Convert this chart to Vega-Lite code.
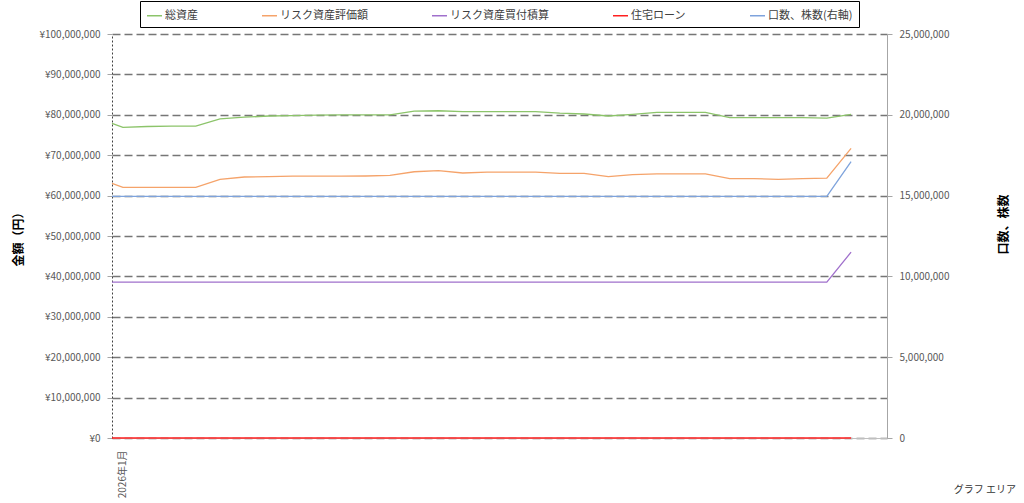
{
  "$schema": "https://vega.github.io/schema/vega-lite/v6.json",
  "width": 775,
  "height": 404,
  "autosize": {"type": "none"},
  "padding": {"left": 112, "top": 34, "right": 137, "bottom": 65},
  "background": "white",
  "config": {"font": "Noto Sans CJK JP", "view": {"stroke": null}},
  "title": {"text": "グラフ エリア", "orient": "bottom", "anchor": "end", "frame": "group", "fontSize": 10, "fontWeight": "normal", "color": "#333333", "dx": 129, "offset": -13},
  "data": {"values": [
    {"t": 0, "総資産": 77900000, "リスク資産評価額": 63000000, "リスク資産買付積算": 38600000, "住宅ローン": 0, "口数、株数(右軸)": 14950000},
    {"t": 0.45, "総資産": 76900000, "リスク資産評価額": 62050000, "リスク資産買付積算": 38600000, "住宅ローン": 0, "口数、株数(右軸)": 14950000},
    {"t": 1.45, "総資産": 77100000, "リスク資産評価額": 62050000, "リスク資産買付積算": 38600000, "住宅ローン": 0, "口数、株数(右軸)": 14950000},
    {"t": 2.45, "総資産": 77200000, "リスク資産評価額": 62050000, "リスク資産買付積算": 38600000, "住宅ローン": 0, "口数、株数(右軸)": 14950000},
    {"t": 3.45, "総資産": 77200000, "リスク資産評価額": 62050000, "リスク資産買付積算": 38600000, "住宅ローン": 0, "口数、株数(右軸)": 14950000},
    {"t": 4.45, "総資産": 79000000, "リスク資産評価額": 64000000, "リスク資産買付積算": 38600000, "住宅ローン": 0, "口数、株数(右軸)": 14950000},
    {"t": 5.45, "総資産": 79400000, "リスク資産評価額": 64600000, "リスク資産買付積算": 38600000, "住宅ローン": 0, "口数、株数(右軸)": 14950000},
    {"t": 6.45, "総資産": 79700000, "リスク資産評価額": 64700000, "リスク資産買付積算": 38600000, "住宅ローン": 0, "口数、株数(右軸)": 14950000},
    {"t": 7.45, "総資産": 79800000, "リスク資産評価額": 64800000, "リスク資産買付積算": 38600000, "住宅ローン": 0, "口数、株数(右軸)": 14950000},
    {"t": 8.45, "総資産": 79900000, "リスク資産評価額": 64800000, "リスク資産買付積算": 38600000, "住宅ローン": 0, "口数、株数(右軸)": 14950000},
    {"t": 9.45, "総資産": 80000000, "リスク資産評価額": 64800000, "リスク資産買付積算": 38600000, "住宅ローン": 0, "口数、株数(右軸)": 14950000},
    {"t": 10.45, "総資産": 80000000, "リスク資産評価額": 64850000, "リスク資産買付積算": 38600000, "住宅ローン": 0, "口数、株数(右軸)": 14950000},
    {"t": 11.45, "総資産": 80000000, "リスク資産評価額": 65000000, "リスク資産買付積算": 38600000, "住宅ローン": 0, "口数、株数(右軸)": 14950000},
    {"t": 12.45, "総資産": 80900000, "リスク資産評価額": 65900000, "リスク資産買付積算": 38600000, "住宅ローン": 0, "口数、株数(右軸)": 14950000},
    {"t": 13.45, "総資産": 81000000, "リスク資産評価額": 66200000, "リスク資産買付積算": 38600000, "住宅ローン": 0, "口数、株数(右軸)": 14950000},
    {"t": 14.45, "総資産": 80800000, "リスク資産評価額": 65600000, "リスク資産買付積算": 38600000, "住宅ローン": 0, "口数、株数(右軸)": 14950000},
    {"t": 15.45, "総資産": 80800000, "リスク資産評価額": 65800000, "リスク資産買付積算": 38600000, "住宅ローン": 0, "口数、株数(右軸)": 14950000},
    {"t": 16.45, "総資産": 80800000, "リスク資産評価額": 65800000, "リスク資産買付積算": 38600000, "住宅ローン": 0, "口数、株数(右軸)": 14950000},
    {"t": 17.45, "総資産": 80800000, "リスク資産評価額": 65800000, "リスク資産買付積算": 38600000, "住宅ローン": 0, "口数、株数(右軸)": 14950000},
    {"t": 18.45, "総資産": 80400000, "リスク資産評価額": 65500000, "リスク資産買付積算": 38600000, "住宅ローン": 0, "口数、株数(右軸)": 14950000},
    {"t": 19.45, "総資産": 80200000, "リスク資産評価額": 65500000, "リスク資産買付積算": 38600000, "住宅ローン": 0, "口数、株数(右軸)": 14950000},
    {"t": 20.45, "総資産": 79700000, "リスク資産評価額": 64700000, "リスク資産買付積算": 38600000, "住宅ローン": 0, "口数、株数(右軸)": 14950000},
    {"t": 21.45, "総資産": 80100000, "リスク資産評価額": 65200000, "リスク資産買付積算": 38600000, "住宅ローン": 0, "口数、株数(右軸)": 14950000},
    {"t": 22.45, "総資産": 80600000, "リスク資産評価額": 65400000, "リスク資産買付積算": 38600000, "住宅ローン": 0, "口数、株数(右軸)": 14950000},
    {"t": 23.45, "総資産": 80600000, "リスク資産評価額": 65400000, "リスク資産買付積算": 38600000, "住宅ローン": 0, "口数、株数(右軸)": 14950000},
    {"t": 24.45, "総資産": 80600000, "リスク資産評価額": 65400000, "リスク資産買付積算": 38600000, "住宅ローン": 0, "口数、株数(右軸)": 14950000},
    {"t": 25.45, "総資産": 79300000, "リスク資産評価額": 64200000, "リスク資産買付積算": 38600000, "住宅ローン": 0, "口数、株数(右軸)": 14950000},
    {"t": 26.45, "総資産": 79300000, "リスク資産評価額": 64200000, "リスク資産買付積算": 38600000, "住宅ローン": 0, "口数、株数(右軸)": 14950000},
    {"t": 27.45, "総資産": 79300000, "リスク資産評価額": 64000000, "リスク資産買付積算": 38600000, "住宅ローン": 0, "口数、株数(右軸)": 14950000},
    {"t": 28.45, "総資産": 79300000, "リスク資産評価額": 64200000, "リスク資産買付積算": 38600000, "住宅ローン": 0, "口数、株数(右軸)": 14950000},
    {"t": 29.45, "総資産": 79200000, "リスク資産評価額": 64300000, "リスク資産買付積算": 38600000, "住宅ローン": 0, "口数、株数(右軸)": 14950000},
    {"t": 30.45, "総資産": 80100000, "リスク資産評価額": 71700000, "リスク資産買付積算": 46000000, "住宅ローン": 0, "口数、株数(右軸)": 17100000}
  ]},
  "layer": [
    {
      "transform": [{"fold": ["総資産", "リスク資産評価額", "リスク資産買付積算", "住宅ローン"], "as": ["series", "value"]}],
      "mark": {"type": "line", "strokeWidth": 1.3},
      "encoding": {
        "x": {"field": "t", "type": "quantitative", "scale": {"domain": [0, 31.93], "nice": false, "zero": false},
          "axis": {"values": [0.45], "labelExpr": "'2026年1月'", "labelAngle": -90, "ticks": false, "tickSize": 0, "labelPadding": 12, "domainColor": "#bfbfbf", "grid": false, "title": null, "labelFontSize": 10, "labelColor": "#595959"}},
        "y": {"field": "value", "type": "quantitative", "scale": {"domain": [0, 100000000], "nice": false},
          "axis": {"values": [0, 10000000, 20000000, 30000000, 40000000, 50000000, 60000000, 70000000, 80000000, 90000000, 100000000],
            "labelExpr": "'¥' + format(datum.value, ',')", "grid": true, "gridDash": [8, 4], "gridColor": "#767676", "gridWidth": 1.5,
            "domainColor": "#404040", "domainDash": [2, 2], "tickColor": "#a6a6a6", "tickSize": 5, "labelColor": "#595959", "labelFontSize": 10, "labelPadding": 7,
            "title": "金額（円）", "titleFontSize": 12, "titleFontWeight": "bold", "titleColor": "#000000", "titleX": -94, "titleY": 202, "titleAngle": 270, "titleAlign": "center", "titleBaseline": "middle"}},
        "color": {"field": "series", "type": "nominal",
          "scale": {"domain": ["総資産", "リスク資産評価額", "リスク資産買付積算", "住宅ローン", "口数、株数(右軸)"], "range": ["#8cc46a", "#f5a36a", "#a070cc", "#ff2020", "#7ea3dc"]},
          "legend": {"orient": "none", "legendX": 28, "legendY": -33, "direction": "horizontal", "title": null, "symbolType": "stroke", "symbolSize": 225, "symbolStrokeWidth": 1.5, "labelFontSize": 11, "labelColor": "#404040", "labelOffset": 2, "columnPadding": 61, "padding": 6, "strokeColor": "#000000", "fillColor": "white"}}
      }
    },
    {
      "transform": [{"fold": ["口数、株数(右軸)"], "as": ["series", "value"]}],
      "mark": {"type": "line", "strokeWidth": 1.3},
      "encoding": {
        "x": {"field": "t", "type": "quantitative"},
        "y": {"field": "value", "type": "quantitative", "scale": {"domain": [0, 25000000], "nice": false},
          "axis": {"orient": "right", "values": [0, 5000000, 10000000, 15000000, 20000000, 25000000], "labelExpr": "format(datum.value, ',')", "grid": false,
            "domainColor": "#a6a6a6", "tickColor": "#a6a6a6", "tickSize": 5, "labelColor": "#595959", "labelFontSize": 10, "labelPadding": 7,
            "title": "口数、株数", "titleFontSize": 12, "titleFontWeight": "bold", "titleColor": "#000000", "titleX": 116, "titleY": 190, "titleAngle": 270, "titleAlign": "center", "titleBaseline": "middle"}},
        "color": {"field": "series", "type": "nominal"}
      }
    }
  ],
  "resolve": {"scale": {"y": "independent"}}
}
